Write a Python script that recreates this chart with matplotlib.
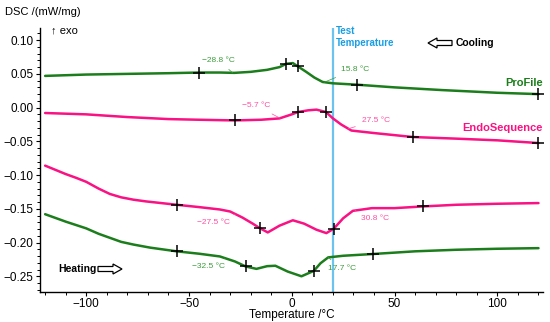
import numpy as np
import matplotlib
matplotlib.use("Agg")
import matplotlib.pyplot as plt
from matplotlib.patches import FancyArrow
from matplotlib.transforms import IdentityTransform
from matplotlib.ticker import MultipleLocator

plt.rcParams['font.family'] = ['Liberation Sans', 'DejaVu Sans']

# ---------------- data ----------------
# ProFile, cooling
pf_cool_T = [-120, -100, -80, -60, -45, -35, -28, -20, -12, -6, -2.6, 0.5, 3, 7, 11, 15, 20, 31.6, 50, 73, 100, 120]
pf_cool_V = [0.047, 0.049, 0.050, 0.051, 0.052, 0.052, 0.0515, 0.053, 0.056, 0.060, 0.065, 0.066, 0.061, 0.053,
             0.0445, 0.038, 0.036, 0.034, 0.030, 0.026, 0.022, 0.020]
pf_cool_marks = [-45, -2.6, 3, 31.6, 120]

# EndoSequence, cooling
es_cool_T = [-120, -100, -80, -60, -45, -27.7, -15, -6, 0, 3, 8, 12, 16.6, 20, 24, 29, 40, 59, 80, 100, 120]
es_cool_V = [-0.008, -0.010, -0.014, -0.017, -0.018, -0.019, -0.018, -0.016, -0.010, -0.0065, -0.004, -0.003,
             -0.0065, -0.016, -0.025, -0.034, -0.0377, -0.0436, -0.046, -0.0485, -0.0525]
es_cool_marks = [-27.7, 3, 16.6, 59, 120]

# EndoSequence, heating
es_heat_T = [-120, -110, -105, -100, -94, -88.5, -83, -77, -71, -65, -56, -45, -35, -30, -24, -19, -15.6, -11.7,
             -6, 0.5, 6, 12, 16.8, 20.4, 25, 29.7, 39, 50, 63.7, 80, 100, 120]
es_heat_V = [-0.086, -0.0985, -0.104, -0.110, -0.120, -0.128, -0.133, -0.1365, -0.139, -0.141, -0.144, -0.1475,
             -0.151, -0.154, -0.163, -0.172, -0.1786, -0.185, -0.175, -0.167, -0.172, -0.181, -0.186, -0.1795,
             -0.164, -0.153, -0.149, -0.149, -0.1465, -0.144, -0.1425, -0.1415]
es_heat_marks = [-56, -15.6, 20.4, 63.7]

# ProFile, heating
pf_heat_T = [-120, -110, -105, -100, -94, -88.5, -83, -77, -69, -56, -45, -35, -27.7, -22.4, -17.2, -12, -8, -2,
             4.7, 10.7, 14, 17.7, 25, 39.4, 60, 80, 100, 120]
pf_heat_V = [-0.158, -0.169, -0.174, -0.179, -0.187, -0.193, -0.199, -0.203, -0.2075, -0.213, -0.2166, -0.2206,
             -0.228, -0.2355, -0.239, -0.235, -0.2344, -0.243, -0.250, -0.242, -0.2306, -0.222, -0.2196, -0.217,
             -0.213, -0.2107, -0.2092, -0.2083]
pf_heat_marks = [-56, -22.4, 10.7, 39.4]

# onset annotations: (onset temperature, label)
pf_cool_onsets = [(-28.8, "\u221228.8 \u00b0C"), (15.8, "15.8 \u00b0C")]
es_cool_onsets = [(-5.7, "\u22125.7 \u00b0C"), (27.5, "27.5 \u00b0C")]
es_heat_onsets = [(-27.5, "\u221227.5 \u00b0C"), (30.8, "30.8 \u00b0C")]
pf_heat_onsets = [(-32.5, "\u221232.5 \u00b0C"), (17.7, "17.7 \u00b0C")]

test_temperature = 20

GREEN = "#1b7d1b"
PINK = "#fa1183"
GREEN_T = "#3c9c3c"
PINK_T = "#ff4fa3"
BLUE = "#6cc3ee"
BLUE_T = "#1a9ee3"

# ---------------- figure ----------------
W, H = 550, 322
fig = plt.figure(figsize=(W / 100, H / 100), dpi=100)
ax = fig.add_axes([40 / W, 1 - 292 / H, (543 - 40) / W, (292 - 28) / H])
ax.set_xlim(-122.5, 122.2)
ax.set_ylim(-0.2733, 0.118)

for s in ['top', 'right']:
    ax.spines[s].set_visible(False)
for s in ['left', 'bottom']:
    ax.spines[s].set_linewidth(1.0)

ax.xaxis.set_major_locator(MultipleLocator(50))
ax.xaxis.set_minor_locator(MultipleLocator(10))
ax.yaxis.set_major_locator(MultipleLocator(0.05))
ax.yaxis.set_minor_locator(MultipleLocator(0.01))
ax.tick_params(which='major', direction='out', length=3, width=0.8, labelsize=8.5, pad=1.5)
ax.tick_params(axis='x', which='major', pad=1)
ax.tick_params(which='minor', direction='out', length=2, width=0.7)
ax.yaxis.set_major_formatter(matplotlib.ticker.FuncFormatter(
    lambda v, p: ("\u2212%.2f" % abs(v)) if v < -1e-9 else "%.2f" % abs(v)))
ax.xaxis.set_major_formatter(matplotlib.ticker.FuncFormatter(
    lambda v, p: ("\u2212%d" % abs(v)) if v < -1e-9 else "%d" % abs(v)))

ax.axvline(test_temperature, color=BLUE, lw=1.6, zorder=1)

curves = [
    (pf_cool_T, pf_cool_V, pf_cool_marks, GREEN),
    (es_cool_T, es_cool_V, es_cool_marks, PINK),
    (es_heat_T, es_heat_V, es_heat_marks, PINK),
    (pf_heat_T, pf_heat_V, pf_heat_marks, GREEN),
]
for T, V, marks, c in curves:
    ax.plot(T, V, color=c, lw=1.8, solid_capstyle='round', solid_joinstyle='round', zorder=2)
    mv = np.interp(marks, T, V)
    ax.plot(marks, mv, ls='none', marker='+', ms=8, mew=1.1, color='black', zorder=3)

# onset labels (offsets in points)
ann = [
    (pf_cool_onsets, pf_cool_T, pf_cool_V, GREEN_T, [(-10, 9), (22, 9)]),
    (es_cool_onsets, es_cool_T, es_cool_V, PINK_T, [(-17, 9), (20, 6)]),
    (es_heat_onsets, es_heat_T, es_heat_V, PINK_T, [(-16, -6), (14, -6)]),
    (pf_heat_onsets, pf_heat_T, pf_heat_V, GREEN_T, [(-12, -6), (10, -8)]),
]
for onsets, T, V, c, offs in ann:
    for (t, lab), off in zip(onsets, offs):
        v = np.interp(t, T, V)
        ax.annotate(lab, xy=(t, v), xytext=off, textcoords='offset points',
                    fontsize=6, color=c, ha='center', va='center',
                    arrowprops=dict(arrowstyle='-', color=c, lw=0.5, shrinkA=3, shrinkB=0), zorder=4)

# texts
def ftext(x, y, s, **kw):
    fig.text(x / W, 1 - y / H, s, **kw)

ftext(5, 12, "DSC /(mW/mg)", fontsize=8, va='center', ha='left')
ftext(51, 30, "\u2191 exo", fontsize=8, va='center', ha='left')
ftext(292, 315, "Temperature /\u00b0C", fontsize=8.5, va='center', ha='center')
ftext(336, 31, "Test", fontsize=7, fontweight='bold', color=BLUE_T, va='center', ha='left')
ftext(336, 43, "Temperature", fontsize=7, fontweight='bold', color=BLUE_T, va='center', ha='left')
ftext(456, 43, "Cooling", fontsize=7.5, fontweight='bold', va='center', ha='left')
ftext(58, 269, "Heating", fontsize=7.5, fontweight='bold', va='center', ha='left')
ftext(543, 83, "ProFile", fontsize=8, fontweight='bold', color=GREEN, va='center', ha='right')
ftext(543, 128, "EndoSequence", fontsize=8, fontweight='bold', color=PINK, va='center', ha='right')

# hollow arrows (display pixel coordinates)
def hollow_arrow(x0, x1, y):
    ypix = H - y
    a = FancyArrow(x0, ypix, x1 - x0, 0, width=5, head_width=10, head_length=9,
                   length_includes_head=True, fc='white', ec='black', lw=0.9,
                   transform=IdentityTransform())
    fig.add_artist(a)

hollow_arrow(452, 428, 43)
hollow_arrow(98, 122, 269)

fig.savefig("out.png", dpi=100)
